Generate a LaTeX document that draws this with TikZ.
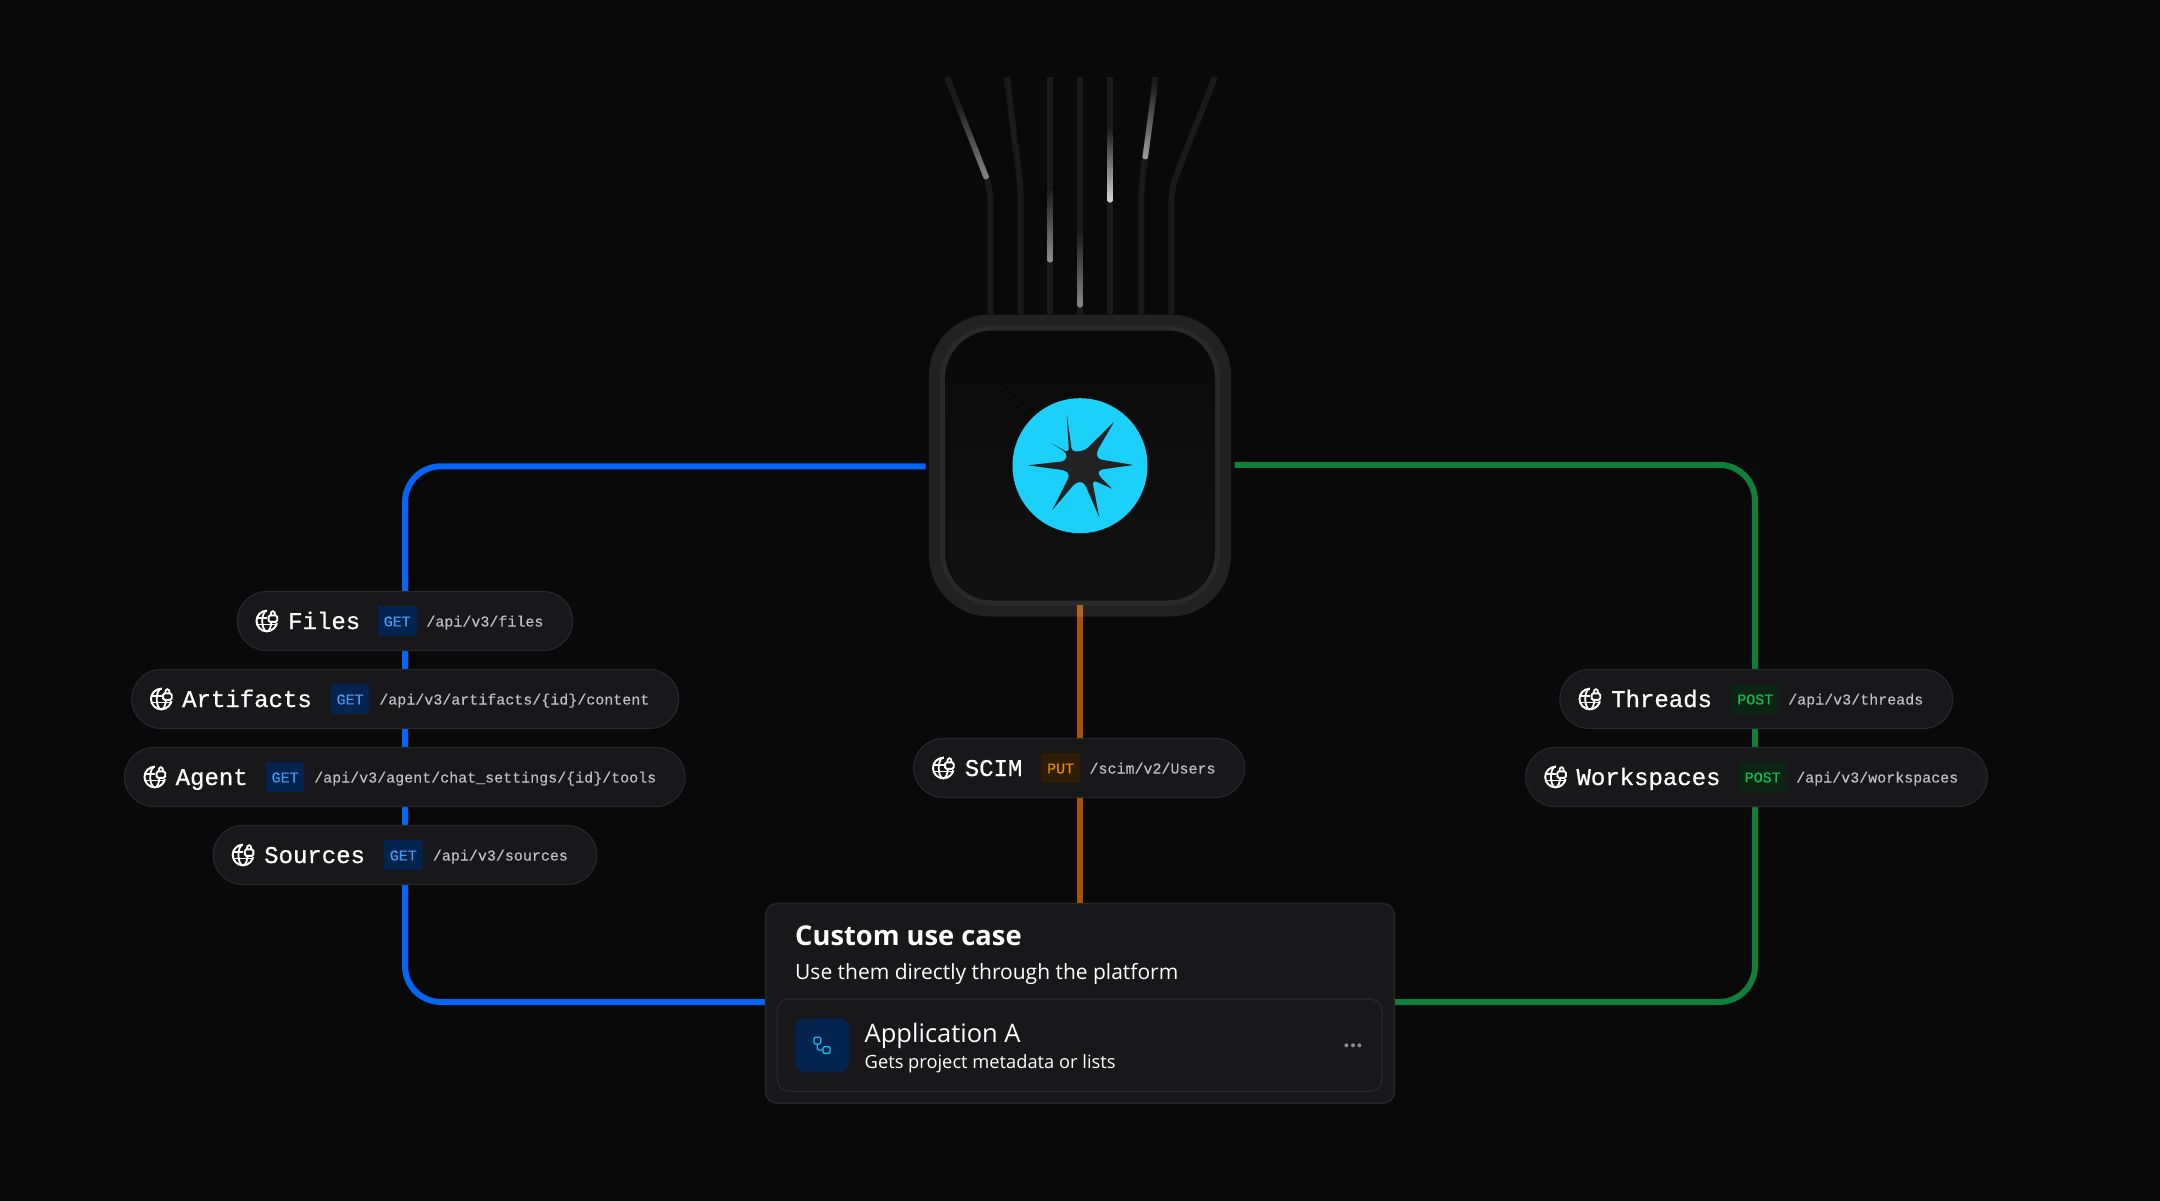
\documentclass[tikz,border=0pt]{standalone}
\usepackage{fontspec}
\setmainfont{Open Sans}
\setmonofont{Liberation Mono}
\newfontfamily\titlemono[FakeBold=0.7]{Liberation Mono}
\newfontfamily\urlmono[FakeBold=0.35]{Liberation Mono}
\usetikzlibrary{calc}
\definecolor{pagebg}{HTML}{090909}
\definecolor{wirecol}{HTML}{1A1A1C}
\definecolor{pillfill}{HTML}{18181B}
\definecolor{pilledge}{HTML}{27272A}
\definecolor{ringcol}{HTML}{222222}
\definecolor{ringmid}{HTML}{2A2A2C}
\definecolor{chipglow}{HTML}{111112}
\definecolor{ticklight}{HTML}{1D1D1E}
\definecolor{apiblue}{HTML}{0566F5}
\definecolor{apigreen}{HTML}{0F7F3A}
\definecolor{apiorange}{HTML}{A85203}
\definecolor{orangeover}{HTML}{B0651F}
\definecolor{suncol}{HTML}{1BD1FA}
\definecolor{iconcyan}{HTML}{19B8E6}
\definecolor{urlgrey}{HTML}{BFBFC2}
\definecolor{getback}{HTML}{04234F}
\definecolor{gettext}{HTML}{4A9CF0}
\definecolor{postback}{HTML}{0B2414}
\definecolor{posttext}{HTML}{0FBF50}
\definecolor{putback}{HTML}{2E1C05}
\definecolor{puttext}{HTML}{F08C00}
\newcommand{\streak}[3]{
  \foreach \t in {0,...,23} {
    \pgfmathtruncatemacro{\pct}{100*(\t+1)/24}
    \draw[line width=5.4,color=#3!\pct!wirecol] ($(#1)!{\t/24}!(#2)$) -- ($(#1)!{(\t+1.4)/24}!(#2)$);
  }
  \fill[#3] (#2) circle[radius=2.7];
}
\tikzset{
  wire/.style={line width=6,color=wirecol,rounded corners=14},
  rail/.style={line width=6,rounded corners=36},
  pill/.style={draw=pilledge,fill=pillfill,line width=1.2,minimum height=59,rounded corners=29.5,inner sep=0},
  titletext/.style={anchor=base west,inner sep=0,text=white,font=\titlemono\fontsize{24}{28}\selectfont},
  urltext/.style={anchor=base west,inner sep=0,text=urlgrey,font=\urlmono\fontsize{15}{18}\selectfont},
  apitag/.style={minimum height=30,inner sep=0,text height=11.5,text depth=0,font=\urlmono\fontsize{15}{18}\selectfont},
  gettag/.style={apitag,fill=getback,text=gettext,minimum width=38.6},
  posttag/.style={apitag,fill=postback,text=posttext,minimum width=48},
  puttag/.style={apitag,fill=putback,text=puttext,minimum width=38.7},
  cardbox/.style={draw=pilledge,fill=pillfill,line width=1.4,rounded corners=12,inner sep=0},
  cardtext/.style={anchor=base west,inner sep=0,text=white},
  globelock/.pic={
    \draw[white,line width=2] (0,0) circle[radius=10.3];
    \draw[white,line width=1.8] (0,0) ellipse[x radius=4.6,y radius=10.3];
    \draw[white,line width=1.8] (-10,-3.4) -- (10,-3.4);
    \draw[white,line width=1.8] (-10,3.4) -- (10,3.4);
    \fill[pillfill] (0.2,-12) rectangle (12.5,2.2);
    \draw[white,line width=1.9,rounded corners=1.5] (1.8,-5.6) rectangle (10.4,0.8);
    \draw[white,line width=1.8] (3.8,-5.6) .. controls (3.6,-11.2) and (8.6,-11.2) .. (8.4,-5.6);
  },
}
\begin{document}
\begin{tikzpicture}[x=1pt,y=-1pt]
\useasboundingbox (0,0) rectangle (2160,1200);
\fill[pagebg] (-3,-3) rectangle (2163,1203);

% chip
\node (chip) [fill=ringcol,minimum size=302,rounded corners=61,inner sep=0] at (1080,465.5) {};

% wires on top of the chip
\coordinate (wirea) at (947,77);
\coordinate (wireb) at (1006.7,77);
\coordinate (wirec) at (1050,77);
\coordinate (wired) at (1080,77);
\coordinate (wiree) at (1110,77);
\coordinate (wiref) at (1155.3,77);
\coordinate (wireg) at (1215,77);
\draw[wire] (wirea) -- (990.7,189) -- (990.7,0 |- chip.north);
\draw[wire] (wireb) -- (1020.7,188) -- (1020.7,0 |- chip.north);
\draw[wire] (wirec) -- (wirec |- chip.north);
\draw[wire] (wired) -- (chip.north);
\draw[wire] (wiree) -- (wiree |- chip.north);
\draw[wire] (wiref) -- (1141.3,188) -- (1141.3,0 |- chip.north);
\draw[wire] (wireg) -- (1171.3,188) -- (1171.3,0 |- chip.north);
\streak{957.9,105}{986,176.7}{white!45!wirecol}
\streak{1050,190}{1050,260}{white!48!wirecol}
\streak{1080,233}{1080,305}{white!45!wirecol}
\streak{1110,130}{1110,200}{white!78!wirecol}
\streak{1155,85}{1145.3,156.7}{white!55!wirecol}

% chip inside
\node (chipmid) [fill=ringmid,minimum size=280,rounded corners=53,inner sep=0] at (chip) {};
\node (chipcore) [top color=pagebg,bottom color=chipglow,minimum size=270,rounded corners=48,inner sep=0] at (chip) {};
\draw[ticklight,line width=0.5] (1000,386) -- (1031,416);
\draw[ticklight,line width=0.5] (1000,545) -- (1030,516.7);
\draw[ticklight,line width=0.5] (1158.3,543.3) -- (1128,515);
\node (sun) [circle,fill=suncol,minimum size=135,inner sep=0] at (1080,465.7) {};
\fill[ringcol] (1066.7,414) [rounded corners=4] -- (1072,452) -- (1085,450.5) [sharp corners] -- (1114,422)
  [rounded corners=4] -- (1096.5,452) -- (1097.3,459) [sharp corners] -- (1133.3,465)
  [rounded corners=4] -- (1098,470) -- (1098.3,475) [sharp corners] -- (1112,488.7)
  [rounded corners=4] -- (1092.7,480) -- (1092.7,483) [sharp corners] -- (1099.3,517.3)
  [rounded corners=4] -- (1084,482) -- (1076,482) [sharp corners] -- (1052.3,510)
  [rounded corners=4] -- (1070,475) -- (1066,470.5) [sharp corners] -- (1028,465.3)
  [rounded corners=4] -- (1066,461) -- (1067,453) [sharp corners] -- (1051.3,443.3)
  [rounded corners=4] -- (1069,453) [sharp corners] -- cycle;

% card
\node (card) [cardbox,minimum width=628.8,minimum height=200] at (1080,1003.3) {};

% rails
\coordinate (bluefoot) at (405,1002);
\coordinate (greenfoot) at (1755,1002);
\draw[rail,apiblue,shorten <=3.3pt] ([yshift=-0.8pt]chip.west) -- ([yshift=-0.8pt]chip.west -| bluefoot) -- (bluefoot) -- (bluefoot -| card.west);
\draw[rail,apigreen,shorten <=3.3pt] ([yshift=0.7pt]chip.east) -- ([yshift=0.7pt]chip.east -| greenfoot) -- (greenfoot) -- (greenfoot -| card.east);
\draw[line width=6,apiorange] (chip.south) -- (card.north);
\draw[line width=6,orangeover] ([yshift=11.7pt]chip.south) -- (chip.south);

% left group
\node (filespill) [pill,minimum width=335.3] at (405,621) {};
\pic at (266.8,621) {globelock};
\node (filestitle) [titletext] at (288,629) {Files};
\node (filestag) [gettag] at (397.2,620.7) {GET};
\node (filesurl) [urltext] at (426.2,626.5) {/api/v3/files};

\node (artifactspill) [pill,minimum width=546.9] at (405.2,699) {};
\pic at (161.3,699) {globelock};
\node (artifactstitle) [titletext] at (182,707) {Artifacts};
\node (artifactstag) [gettag] at (350.1,698.7) {GET};
\node (artifactsurl) [urltext] at (379.1,704.5) {/api/v3/artifacts/\{id\}/content};

\node (agentpill) [pill,minimum width=560.5] at (404.8,777) {};
\pic at (154.8,777) {globelock};
\node (agenttitle) [titletext] at (175.5,785) {Agent};
\node (agenttag) [gettag] at (285.1,776.7) {GET};
\node (agenturl) [urltext] at (314,782.5) {/api/v3/agent/chat\_settings/\{id\}/tools};

\node (sourcespill) [pill,minimum width=383.5] at (405,855) {};
\pic at (243,855) {globelock};
\node (sourcestitle) [titletext] at (264,863) {Sources};
\node (sourcestag) [gettag] at (403.3,854.7) {GET};
\node (sourcesurl) [urltext] at (432.7,860.5) {/api/v3/sources};

% middle
\node (scimpill) [pill,minimum width=331] at (1079.2,768) {};
\pic at (943.3,768) {globelock};
\node (scimtitle) [titletext] at (964.6,776) {SCIM};
\node (scimtag) [puttag] at (1060.6,767.7) {PUT};
\node (scimurl) [urltext] at (1089.3,773.5) {/scim/v2/Users};

% right group
\node (threadspill) [pill,minimum width=392.7] at (1756.3,699) {};
\pic at (1589.8,699) {globelock};
\node (threadstitle) [titletext] at (1611,707) {Threads};
\node (threadstag) [posttag] at (1755.2,698.7) {POST};
\node (threadsurl) [urltext] at (1788,704.5) {/api/v3/threads};

\node (workspacespill) [pill,minimum width=461.6] at (1756.5,777) {};
\pic at (1555.5,777) {globelock};
\node (workspacestitle) [titletext] at (1576.3,785) {Workspaces};
\node (workspacestag) [posttag] at (1762.7,776.7) {POST};
\node (workspacesurl) [urltext] at (1796,782.5) {/api/v3/workspaces};

% card content
\node (cardtitle) [cardtext,font=\bfseries\fontsize{27.3}{32}\selectfont] at (795,945) {Custom use case};
\node (cardsub) [cardtext,font=\fontsize{21}{26}\selectfont] at (795,979.3) {Use them directly through the platform};
\node (appbox) [cardbox,minimum width=604.6,minimum height=92.3] at (1079.7,1045.2) {};
\node (appicon) [fill=getback,minimum size=54,rounded corners=10,inner sep=0] at (822.3,1045.3) {};
\draw[iconcyan,line width=1.3,rounded corners=1.2] (814,1037.3) rectangle (820.7,1044);
\draw[iconcyan,line width=1.3,rounded corners=1.2] (823,1046.7) rectangle (830,1053.3);
\draw[iconcyan,line width=1.3,rounded corners=1.5] (817.3,1044) -- (817.3,1050) -- (823,1050);
\node (apptitle) [cardtext,font=\fontsize{25.5}{30}\selectfont] at (864.5,1042) {Application A};
\node (appsub) [cardtext,font=\fontsize{18.3}{23}\selectfont] at (864.5,1068.3) {Gets project metadata or lists};
\foreach \dotx in {1346.4,1353,1359.4}
  \fill[urlgrey!70!pillfill] (\dotx,1045.3) circle[radius=2];
\end{tikzpicture}
\end{document}
